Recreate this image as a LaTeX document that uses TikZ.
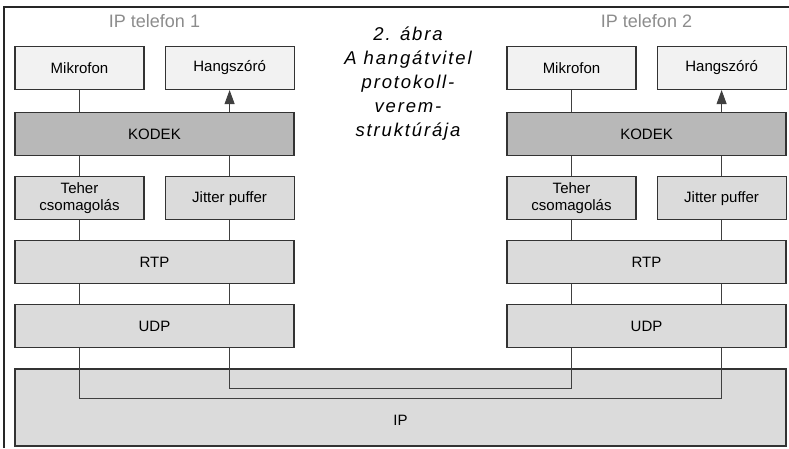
\documentclass[tikz,border=0pt]{standalone}
\usepackage{fontspec}
\setmainfont{Liberation Sans}
\newfontfamily\captionfont{Liberation Sans}[LetterSpace=10]
\usepackage{xcolor}
\usetikzlibrary{arrows.meta, positioning, calc}

\begin{document}
\begin{tikzpicture}[x=1pt, y=1pt, node distance=20pt and 20pt,
  every node/.style={font=\fontsize{15}{17}\selectfont},
  layer/.style={draw=black!80, line width=1.1pt, minimum height=43pt, inner sep=0pt, align=center},
  half/.style={layer, minimum width=129pt},
  wide/.style={layer, minimum width=279pt},
  wire/.style={draw=black!75, line width=0.9pt}]
\useasboundingbox (0,0) rectangle (789,448);
\draw[line width=1.2pt, black!85] (4,0) -- (4,441) -- (789,441);

% IP telefon 1
\node (phone1) [text=black!45, font=\fontsize{18}{20}\selectfont] at (154.5,427) {IP telefon 1};
\node (mic1) [half, fill=black!5] at (79.5,380) {Mikrofon};
\node (spk1) [half, fill=black!5, right=of mic1] {Hangszóró};
\node (codec1) [wide, fill=black!28, below right=22pt and 0pt of mic1.south west] {KODEK};
\node (teher1) [half, fill=black!14, below right=20pt and 0pt of codec1.south west] {Teher\\csomagolás};
\node (jitter1) [half, fill=black!14, right=of teher1] {Jitter puffer};
\node (rtp1) [wide, fill=black!14, below right=20pt and 0pt of teher1.south west] {RTP};
\node (udp1) [wide, fill=black!14, below right=20pt and 0pt of rtp1.south west] {UDP};

% IP telefon 2
\node (phone2) [text=black!45, font=\fontsize{18}{20}\selectfont] at (646.5,427) {IP telefon 2};
\node (mic2) [half, fill=black!5] at (571.5,380) {Mikrofon};
\node (spk2) [half, fill=black!5, right=of mic2] {Hangszóró};
\node (codec2) [wide, fill=black!28, below right=22pt and 0pt of mic2.south west] {KODEK};
\node (teher2) [half, fill=black!14, below right=20pt and 0pt of codec2.south west] {Teher\\csomagolás};
\node (jitter2) [half, fill=black!14, right=of teher2] {Jitter puffer};
\node (rtp2) [wide, fill=black!14, below right=20pt and 0pt of teher2.south west] {RTP};
\node (udp2) [wide, fill=black!14, below right=20pt and 0pt of rtp2.south west] {UDP};

\node (ip) [layer, minimum width=771pt, minimum height=0pt, text height=56pt, text depth=21pt, fill=black!14, below right=20pt and 0pt of udp1.south west] {IP};

\node (caption) [align=center, font=\captionfont\itshape\fontsize{18.5}{24}\selectfont] at (408,364) {2. ábra\\A hangátvitel\\protokoll-\\verem-\\struktúrája};

% stack wiring
\draw[wire] (mic1.south) -- (mic1.south |- codec1.north);
\draw[wire, -{Triangle[width=10pt,length=14pt]}] (spk1.south |- codec1.north) -- (spk1.south);
\draw[wire] (teher1.north) -- (teher1.north |- codec1.south);
\draw[wire] (jitter1.north) -- (jitter1.north |- codec1.south);
\draw[wire] (teher1.south) -- (teher1.south |- rtp1.north);
\draw[wire] (jitter1.south) -- (jitter1.south |- rtp1.north);
\draw[wire] (rtp1.south -| teher1) -- (udp1.north -| teher1);
\draw[wire] (rtp1.south -| jitter1) -- (udp1.north -| jitter1);

\draw[wire] (mic2.south) -- (mic2.south |- codec2.north);
\draw[wire, -{Triangle[width=10pt,length=14pt]}] (spk2.south |- codec2.north) -- (spk2.south);
\draw[wire] (teher2.north) -- (teher2.north |- codec2.south);
\draw[wire] (jitter2.north) -- (jitter2.north |- codec2.south);
\draw[wire] (teher2.south) -- (teher2.south |- rtp2.north);
\draw[wire] (jitter2.south) -- (jitter2.south |- rtp2.north);
\draw[wire] (rtp2.south -| teher2) -- (udp2.north -| teher2);
\draw[wire] (rtp2.south -| jitter2) -- (udp2.north -| jitter2);

% through the IP layer
\coordinate (inner) at ($(ip.north)+(0,-20)$);
\coordinate (outer) at ($(ip.north)+(0,-30)$);
\draw[wire] (udp1.south -| jitter1) |- (inner) -| (udp2.south -| teher2);
\draw[wire] (udp1.south -| teher1) |- (outer) -| (udp2.south -| jitter2);
\end{tikzpicture}
\end{document}
